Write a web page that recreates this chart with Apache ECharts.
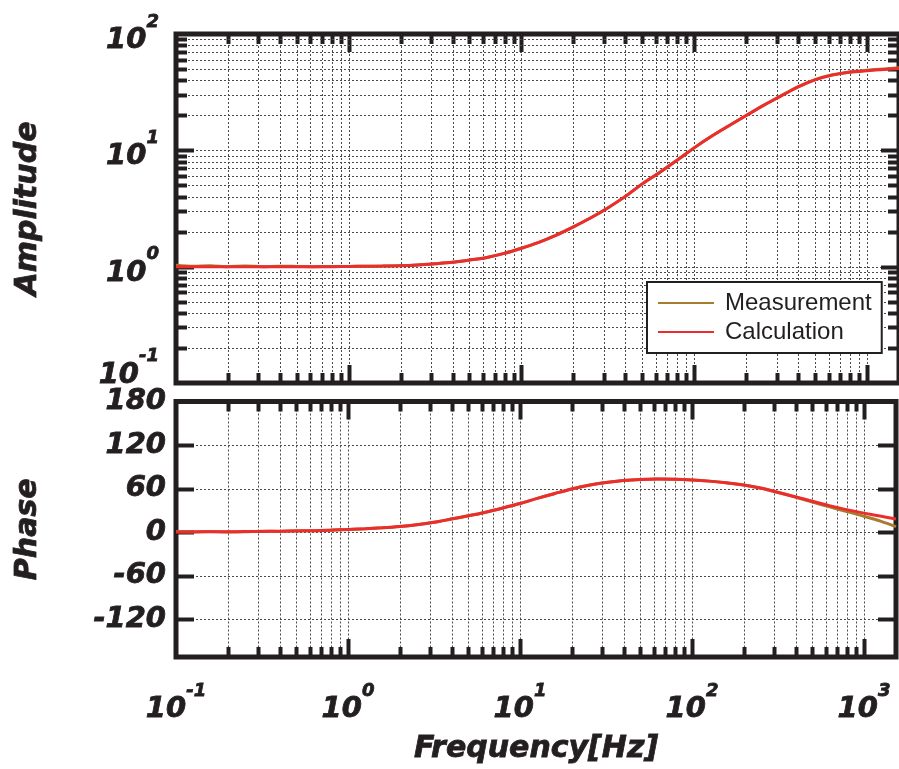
<!DOCTYPE html>
<html>
<head>
<meta charset="utf-8">
<script src="https://cdn.jsdelivr.net/npm/echarts@6/dist/echarts.min.js"></script>
<style>
  html, body { margin: 0; padding: 0; background: #ffffff; }
  #chart { width: 899px; height: 769px; }
</style>
</head>
<body>
<div id="chart"></div>
<script>
// Frequency response of the filter: measured vs. calculated.
const freq = [
  0.1, 0.126, 0.158, 0.2, 0.251, 0.316, 0.398, 0.501, 0.631, 0.794,
  1, 1.26, 1.58, 2, 2.51, 3.16, 3.98, 5.01, 6.31, 7.94,
  10, 12.6, 15.8, 20, 25.1, 31.6, 39.8, 50.1, 63.1, 79.4,
  100, 126, 158, 200, 251, 316, 398, 501, 631, 794,
  1000, 1259, 1535
];

const ampMeasured = [
  1.03, 1.01, 1.02, 1.0, 1.015, 1.0, 1.01, 1.005, 1.0, 1.005,
  1.005, 1.01, 1.012, 1.022, 1.035, 1.06, 1.09, 1.14, 1.2, 1.3,
  1.44, 1.62, 1.86, 2.2, 2.62, 3.2, 4.0, 5.15, 6.45, 8.2,
  10.5, 13.2, 16.2, 19.9, 24.3, 29.3, 35.1, 40.5, 44.6, 47.2,
  48.8, 50.1, 51.2
];

const ampCalculated = [
  1.0, 1.0, 1.0, 1.0, 1.0, 1.0, 1.0, 1.0, 1.0, 1.0,
  1.005, 1.008, 1.012, 1.02, 1.035, 1.06, 1.09, 1.14, 1.2, 1.3,
  1.44, 1.62, 1.86, 2.2, 2.62, 3.2, 4.0, 5.15, 6.45, 8.2,
  10.5, 13.2, 16.2, 19.9, 24.2, 29.1, 34.9, 40.3, 44.3, 46.9,
  48.4, 49.6, 50.6
];

const phaseMeasured = [
  0.8, 0.2, 1.0, 0.3, 0.5, 1.2, 1.0, 1.8, 2.0, 2.9,
  3.7, 4.7, 6.0, 7.8, 10.2, 13.5, 18.0, 22.5, 27.5, 33.3,
  39.5, 46.5, 53.0, 59.5, 64.5, 68.3, 71.0, 72.6, 73.2, 73.0,
  72.0, 70.3, 68.0, 65.0, 60.6, 54.7, 48.3, 41.5, 34.8, 28.5,
  22.0, 14.8, 7.5
];

const phaseCalculated = [
  0.3, 0.4, 0.5, 0.6, 0.8, 1.0, 1.3, 1.6, 2.1, 2.7,
  3.7, 4.7, 6.0, 7.8, 10.2, 13.5, 18.0, 22.5, 27.5, 33.3,
  39.5, 46.5, 53.0, 59.5, 64.5, 68.3, 71.0, 72.6, 73.2, 73.0,
  72.0, 70.3, 68.0, 65.0, 60.8, 55.0, 48.8, 42.5, 36.5, 31.0,
  26.2, 21.8, 18.0
];

// Tick positions (decades and their 2..9 subdivisions)
const freqTicks = [
  0.1, 0.2, 0.3, 0.4, 0.5, 0.6, 0.7, 0.8, 0.9,
  1, 2, 3, 4, 5, 6, 7, 8, 9,
  10, 20, 30, 40, 50, 60, 70, 80, 90,
  100, 200, 300, 400, 500, 600, 700, 800, 900,
  1000
];
const ampTicks = [
  0.1, 0.2, 0.3, 0.4, 0.5, 0.6, 0.7, 0.8, 0.9,
  1, 2, 3, 4, 5, 6, 7, 8, 9,
  10, 20, 30, 40, 50, 60, 70, 80, 90,
  100
];
const phaseTicks = [-120, -60, 0, 60, 120];
const phaseLabels = [-120, -60, 0, 60, 120, 180];

const freqRange = [0.1, 1535];
const ampRange = [0.1, 100];
const phaseRange = [-172, 180];

const INK = '#231f20';
const GRID_INK = '#4a4a4a';
const C_MEAS = '#a67c2e';
const C_CALC = '#ec2d2d';
const LABEL_FONT = 'DejaVu Sans';

const isDecade = v => Math.abs(Math.log10(v) - Math.round(Math.log10(v))) < 1e-6;

// Vertical grid lines + inward ticks on top and bottom frame edges
function freqDecor(params, api) {
  const cs = params.coordSys;
  const v = api.value(0);
  const x = Math.round(api.coord([v, api.value(1)])[0]);
  const len = isDecade(v) ? 18 : 10;
  const top = cs.y, bot = cs.y + cs.height;
  return {
    type: 'group',
    children: [
      { type: 'line', shape: { x1: x + 0.5, y1: top, x2: x + 0.5, y2: bot },
        style: { stroke: GRID_INK, lineWidth: 1, lineDash: [2, 2] } },
      { type: 'rect', shape: { x: x - 1.5, y: top, width: 4, height: len }, style: { fill: INK } },
      { type: 'rect', shape: { x: x - 1.5, y: bot - len, width: 4, height: len }, style: { fill: INK } }
    ]
  };
}

// Horizontal grid lines + inward ticks on left and right frame edges
function levelDecor(majorLen, minorLen, majorTest) {
  return function (params, api) {
    const cs = params.coordSys;
    const v = api.value(1);
    const y = Math.round(api.coord([api.value(0), v])[1]);
    const len = majorTest(v) ? majorLen : minorLen;
    const left = cs.x, right = cs.x + cs.width;
    return {
      type: 'group',
      children: [
        { type: 'line', shape: { x1: left, y1: y + 0.5, x2: right, y2: y + 0.5 },
          style: { stroke: GRID_INK, lineWidth: 1, lineDash: [2, 2] } },
        { type: 'rect', shape: { x: left, y: y - 1.5, width: len, height: 4 }, style: { fill: INK } },
        { type: 'rect', shape: { x: right - len, y: y - 1.5, width: len, height: 4 }, style: { fill: INK } }
      ]
    };
  };
}

const inside = (v, r) => v > r[0] * 1.0001 && v < r[1] * 0.9999;
const insideLin = (v, r) => v > r[0] && v < r[1];

// Heavy italic face for axis numbers and titles
const boldItalic = {
  fontFamily: LABEL_FONT, fontWeight: 'bold', fontStyle: 'italic', color: INK,
  textBorderColor: INK, textBorderWidth: 0.8
};

// "10" with a raised exponent
const powRich = {
  b: Object.assign({ fontSize: 29, lineHeight: 42, verticalAlign: 'bottom' }, boldItalic),
  s: Object.assign({ fontSize: 18, lineHeight: 18, verticalAlign: 'top' }, boldItalic),
  b2: Object.assign({ fontSize: 29, lineHeight: 72, verticalAlign: 'top', padding: [14, 0, 0, 0] }, boldItalic),
  s2: Object.assign({ fontSize: 18, lineHeight: 18, verticalAlign: 'top' }, boldItalic)
};

function powLabel(v) {
  if (!isDecade(v)) return '';
  const e = Math.round(Math.log10(v));
  return '{b|10}{s|' + e + '}';
}

const nameStyle = Object.assign({ fontSize: 30 }, boldItalic);

const gridBox = { show: true, borderColor: INK, borderWidth: 5, backgroundColor: 'transparent' };

const chart = echarts.init(document.getElementById('chart'), null, { renderer: 'canvas' });

chart.setOption({
  animation: false,
  backgroundColor: '#ffffff',
  grid: [
    Object.assign({ left: 176, top: 34, width: 723, height: 349 }, gridBox),
    Object.assign({ left: 176, top: 401.5, width: 723, height: 255.5 }, gridBox)
  ],
  legend: {
    data: ['Measurement', 'Calculation'],
    orient: 'vertical',
    left: 647,
    top: 282,
    padding: [9, 10, 9, 11],
    itemGap: 5,
    icon: 'rect',
    itemWidth: 56,
    itemHeight: 2,
    backgroundColor: '#ffffff',
    borderColor: INK,
    borderWidth: 2,
    borderRadius: 0,
    textStyle: { fontFamily: 'Liberation Sans', fontSize: 24, lineHeight: 24, color: INK,
                 padding: [0, 0, 0, 6] }
  },
  xAxis: [
    {
      gridIndex: 0, type: 'log', logBase: 10, min: freqRange[0], max: freqRange[1],
      axisLine: { show: false }, axisTick: { show: false }, splitLine: { show: false },
      axisLabel: { show: false }
    },
    {
      gridIndex: 1, type: 'log', logBase: 10, min: freqRange[0], max: freqRange[1],
      axisLine: { show: false }, axisTick: { show: false }, splitLine: { show: false },
      axisLabel: { show: true, margin: 25, formatter: powLabel, rich: powRich },
      name: 'Frequency[Hz]', nameLocation: 'middle', nameGap: 77, nameTextStyle: nameStyle
    }
  ],
  yAxis: [
    {
      gridIndex: 0, type: 'log', logBase: 10, min: ampRange[0], max: ampRange[1],
      axisLine: { show: false }, axisTick: { show: false }, splitLine: { show: false },
      axisLabel: {
        margin: 17, rich: powRich,
        formatter: function (v) {
          if (!isDecade(v)) return '';
          const e = Math.round(Math.log10(v));
          return e === -1 ? '{b2|10}{s2|-1}' : '{b|10}{s|' + e + '}';
        }
      },
      name: 'Amplitude', nameLocation: 'middle', nameRotate: 90, nameGap: 133,
      nameTextStyle: nameStyle
    },
    {
      gridIndex: 1, type: 'value', min: phaseRange[0], max: phaseRange[1],
      axisLine: { show: false }, axisTick: { show: false }, splitLine: { show: false },
      axisLabel: Object.assign({
        customValues: phaseLabels, margin: 10, padding: [6, 0, 0, 0], fontSize: 29
      }, boldItalic),
      name: 'Phase', nameLocation: 'middle', nameRotate: 90, nameGap: 133,
      nameTextStyle: nameStyle
    }
  ],
  series: [
    {
      type: 'custom', xAxisIndex: 0, yAxisIndex: 0, silent: true, z: 1,
      renderItem: freqDecor,
      data: freqTicks.filter(f => inside(f, freqRange)).map(f => [f, 1])
    },
    {
      type: 'custom', xAxisIndex: 0, yAxisIndex: 0, silent: true, z: 1,
      renderItem: levelDecor(18, 11, isDecade),
      data: ampTicks.filter(a => inside(a, ampRange)).map(a => [1, a])
    },
    {
      type: 'custom', xAxisIndex: 1, yAxisIndex: 1, silent: true, z: 1,
      renderItem: freqDecor,
      data: freqTicks.filter(f => inside(f, freqRange)).map(f => [f, 0])
    },
    {
      type: 'custom', xAxisIndex: 1, yAxisIndex: 1, silent: true, z: 1,
      renderItem: levelDecor(18, 18, () => true),
      data: phaseTicks.filter(p => insideLin(p, phaseRange)).map(p => [1, p])
    },
    {
      name: 'Measurement', type: 'line', xAxisIndex: 0, yAxisIndex: 0, z: 3,
      symbol: 'none', smooth: 0.3, color: C_MEAS,
      lineStyle: { width: 3, color: C_MEAS },
      data: freq.map((f, i) => [f, ampMeasured[i]])
    },
    {
      name: 'Calculation', type: 'line', xAxisIndex: 0, yAxisIndex: 0, z: 4,
      symbol: 'none', smooth: 0.3, color: C_CALC,
      lineStyle: { width: 3, color: C_CALC },
      data: freq.map((f, i) => [f, ampCalculated[i]])
    },
    {
      name: 'Measurement', type: 'line', xAxisIndex: 1, yAxisIndex: 1, z: 3,
      symbol: 'none', smooth: 0.3, color: C_MEAS,
      lineStyle: { width: 3, color: C_MEAS },
      data: freq.map((f, i) => [f, phaseMeasured[i]])
    },
    {
      name: 'Calculation', type: 'line', xAxisIndex: 1, yAxisIndex: 1, z: 4,
      symbol: 'none', smooth: 0.3, color: C_CALC,
      lineStyle: { width: 3, color: C_CALC },
      data: freq.map((f, i) => [f, phaseCalculated[i]])
    }
  ]
});
</script>
</body>
</html>
